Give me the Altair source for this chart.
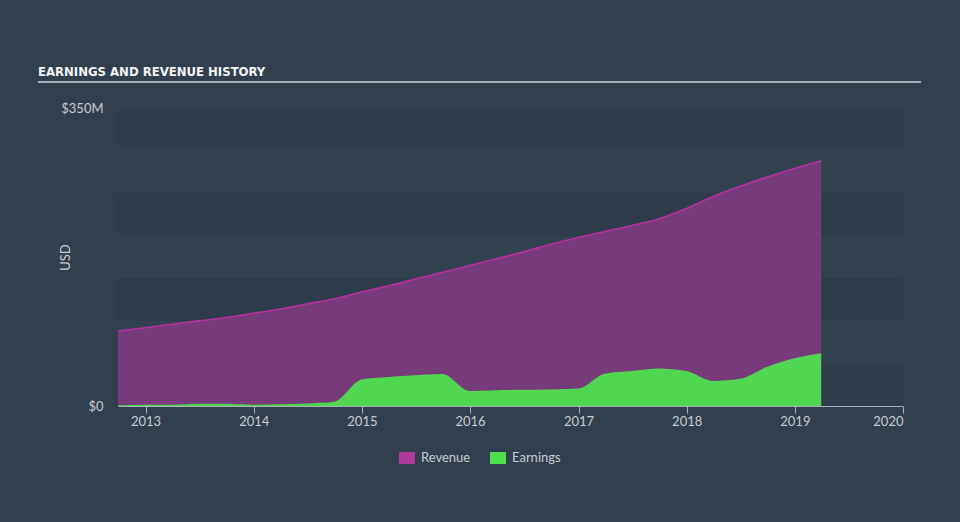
import altair as alt
import pandas as pd

# ---------------- data ----------------
quarters = [
    "2012-09-30", "2012-12-31", "2013-03-31", "2013-06-30", "2013-09-30", "2013-12-31",
    "2014-03-31", "2014-06-30", "2014-09-30", "2014-12-31", "2015-03-31", "2015-06-30",
    "2015-09-30", "2015-12-31", "2016-03-31", "2016-06-30", "2016-09-30", "2016-12-31",
    "2017-03-31", "2017-06-30", "2017-09-30", "2017-12-31", "2018-03-31", "2018-06-30",
    "2018-09-30", "2018-12-31", "2019-03-31",
]
revenue = [88, 92, 96, 100, 104, 109, 114, 120, 126, 134, 141, 149, 157, 165, 173, 181,
           190, 198, 205, 212, 220, 232, 246, 258, 269, 279, 288]
earnings = [1, 1.5, 1.5, 2.5, 2.5, 1.5, 2, 3, 5, 31, 34, 36, 37.5, 17.5, 18.5, 19, 19.5,
            20.5, 38, 41, 44, 41, 29.5, 32, 46, 56, 62]

series_names = ["Revenue", "Earnings"]
series_colors = ["#b0399e", "#4fe04f"]

dark_lo = [0, 100, 200, 300]
dark_hi = [50, 150, 250, 350]
light_lo = [50, 150, 250]
light_hi = [100, 200, 300]

year_ticks = [2013, 2014, 2015, 2016, 2017, 2018, 2019, 2020]
y_ticks = [0, 350]

df = pd.DataFrame({"date": pd.to_datetime(quarters), "revenue": revenue, "earnings": earnings})
dark = pd.DataFrame({"lo": dark_lo, "hi": dark_hi})
light = pd.DataFrame({"lo": light_lo, "hi": light_hi})

W, H = 785, 298
FONT = "Lato"
TXT = "#c6cbd1"
DARK = "#2e3c4b"
LIGHT = "#334251"

x_scale = alt.Scale(domain=[alt.DateTime(year=2012, month=9, date=30),
                            alt.DateTime(year=2020, month=1, date=1)])
y_scale = alt.Scale(domain=[0, 350], nice=False)

x_axis = alt.Axis(
    values=[alt.DateTime(year=y, month=1, date=1) for y in year_ticks],
    format="%Y", title=None, grid=False,
    domainColor="#a9b0b8", tickColor="#a9b0b8", tickSize=7, labelPadding=2,
    labelColor=TXT, labelFont=FONT, labelFontSize=13,
)
y_axis = alt.Axis(
    values=y_ticks,
    labelExpr="datum.value == 0 ? '$0' : '$350M'",
    title="USD", domain=False, ticks=False, grid=False, labelPadding=15,
    labelColor=TXT, labelFont=FONT, labelFontSize=13,
    titleColor=TXT, titleFont=FONT, titleFontSize=13, titleFontWeight="normal",
    titleX=-49, titleY=149, titleAlign="center", titleBaseline="alphabetic",
)

color_scale = alt.Scale(domain=series_names, range=series_colors)
legend = alt.Legend(
    title=None, orient="none", legendX=281, legendY=342, direction="horizontal",
    symbolType="M-1,-0.75H1V0.75H-1Z", symbolSize=256, symbolStrokeWidth=0,
    symbolOpacity=1, labelColor=TXT, labelFont=FONT, labelFontSize=13,
    labelOffset=6, columnPadding=19,
)

dark_layer = alt.Chart(dark).mark_rect(color=DARK).encode(
    x=alt.value(0), x2=alt.value(W),
    y=alt.Y("lo:Q", scale=y_scale, axis=y_axis),
    y2="hi:Q",
)
light_layer = alt.Chart(light).mark_rect(color=LIGHT).encode(
    x=alt.value(0), x2=alt.value(W),
    y=alt.Y("lo:Q", scale=y_scale, axis=y_axis),
    y2="hi:Q",
)

base = alt.Chart(df)

# opaque underlay so the translucent purple looks uniform across the bands
rev_under = base.mark_area(interpolate="monotone", color=DARK, fillOpacity=1).encode(
    x=alt.X("date:T", scale=x_scale, axis=x_axis),
    y=alt.Y("revenue:Q", scale=y_scale, axis=y_axis),
)
rev_area = base.transform_calculate(series="'Revenue'").mark_area(
    interpolate="monotone", fillOpacity=0.57
).encode(
    x=alt.X("date:T", scale=x_scale, axis=x_axis),
    y=alt.Y("revenue:Q", scale=y_scale, axis=y_axis),
    color=alt.Color("series:N", scale=color_scale, legend=legend),
)
rev_line = base.mark_line(interpolate="monotone", color="#b8319f", strokeWidth=1.6).encode(
    x=alt.X("date:T", scale=x_scale, axis=x_axis),
    y=alt.Y("revenue:Q", scale=y_scale, axis=y_axis),
)
earn_area = base.transform_calculate(series="'Earnings'").mark_area(
    interpolate="monotone", fillOpacity=0.94
).encode(
    x=alt.X("date:T", scale=x_scale, axis=x_axis),
    y=alt.Y("earnings:Q", scale=y_scale, axis=y_axis),
    color=alt.Color("series:N", scale=color_scale, legend=legend),
)

title_text = alt.Chart(pd.DataFrame({"t": ["EARNINGS AND REVENUE HISTORY"]})).mark_text(
    align="left", baseline="alphabetic", font="DejaVu Sans Condensed",
    fontWeight="bold", fontSize=13, color="#f2f4f6",
).encode(x=alt.value(-80), y=alt.value(-32), text="t:N")

title_rule = alt.Chart(pd.DataFrame({"a": [0]})).mark_rule(
    color="#a7adb5", strokeWidth=2
).encode(x=alt.value(-80), x2=alt.value(803), y=alt.value(-26))

chart = alt.layer(dark_layer, light_layer, rev_under, rev_area, rev_line, earn_area,
                  title_text, title_rule).properties(
    width=W, height=H,
    autosize=alt.AutoSizeParams(type="none"),
    padding={"left": 118, "top": 108, "right": 57, "bottom": 116},
).configure(background="#323f4f").configure_view(stroke=None)

chart.save("out.html", embed_options={"renderer": "svg", "actions": False})
